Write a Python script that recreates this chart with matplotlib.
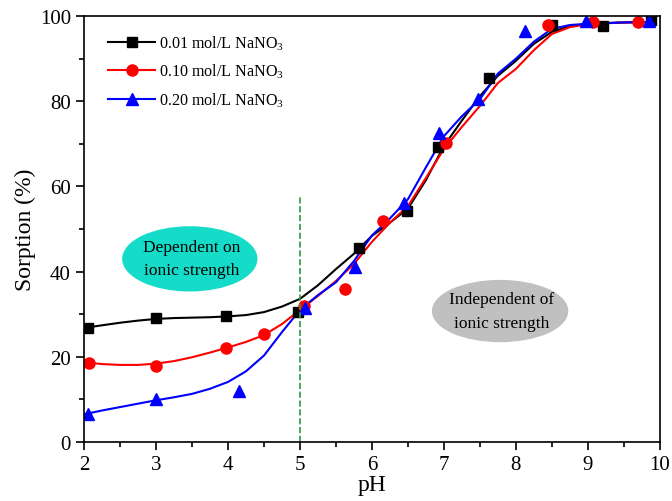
import matplotlib
matplotlib.use("Agg")
import matplotlib.pyplot as plt
from matplotlib.patches import Ellipse

plt.rcParams['font.family'] = ['Liberation Serif', 'DejaVu Serif']
plt.rcParams['mathtext.fontset'] = 'custom'
plt.rcParams['mathtext.rm'] = 'Liberation Serif'
plt.rcParams['mathtext.it'] = 'Liberation Serif:italic'

# measured points
ph_001 = [2.05, 3.0, 3.97, 4.97, 5.82, 6.49, 6.92, 7.63, 8.5, 9.21, 9.88]
s_001 = [26.8, 29.0, 29.5, 30.5, 45.6, 54.3, 69.2, 85.5, 98.0, 97.7, 99.0]
ph_010 = [2.07, 3.0, 3.97, 4.5, 5.05, 5.62, 6.15, 7.03, 8.45, 9.07, 9.7]
s_010 = [18.6, 17.8, 22.0, 25.3, 32.0, 36.0, 52.0, 70.2, 98.0, 98.5, 98.5]
ph_020 = [2.05, 3.0, 4.15, 5.07, 5.77, 6.45, 6.93, 7.47, 8.12, 8.97, 9.85]
s_020 = [6.5, 10.0, 12.0, 31.5, 41.0, 56.0, 72.5, 80.5, 96.5, 98.8, 98.8]

# fitted curves
ph_fit = [2.0, 2.25, 2.5, 2.75, 3.0, 3.25, 3.5, 3.75, 4.0, 4.25, 4.5, 4.75,
          5.0, 5.25, 5.5, 5.75, 6.0, 6.25, 6.5, 6.75, 7.0, 7.25, 7.5, 7.75,
          8.0, 8.25, 8.5, 8.75, 9.0, 9.5, 9.85]
fit_001 = [26.8, 27.4, 28.0, 28.5, 28.9, 29.1, 29.2, 29.3, 29.5, 29.8, 30.5, 31.8,
           33.6, 36.8, 40.6, 44.2, 48.4, 51.5, 54.8, 61.5, 69.5, 75.5, 81.2, 86.0,
           89.5, 93.5, 96.3, 97.6, 98.2, 98.5, 98.6]
fit_010 = [18.7, 18.3, 18.1, 18.1, 18.4, 19.0, 19.9, 21.0, 22.2, 23.5, 25.1, 27.7,
           31.0, 34.3, 37.8, 41.8, 47.0, 51.5, 55.4, 62.0, 68.8, 74.0, 78.9, 84.3,
           87.6, 92.0, 95.8, 97.4, 98.1, 98.5, 98.6]
fit_020 = [6.5, 7.4, 8.2, 9.0, 9.8, 10.5, 11.3, 12.5, 14.1, 16.6, 20.3, 25.8,
           31.0, 34.5, 37.5, 42.5, 48.5, 52.5, 57.0, 64.5, 71.8, 76.5, 80.5, 86.5,
           90.0, 94.0, 97.0, 97.9, 98.2, 98.5, 98.6]

labels = ['0.01 mol/L NaNO$_3$', '0.10 mol/L NaNO$_3$', '0.20 mol/L NaNO$_3$']

fig = plt.figure(figsize=(6.72, 5.02), dpi=100)
ax = fig.add_axes([0.125, 0.1175, 0.857, 0.8485])

ax.plot(ph_fit, fit_001, '-', color='black', lw=1.5)
ax.plot(ph_fit, fit_010, '-', color='red', lw=1.5)
ax.plot(ph_fit, fit_020, '-', color='blue', lw=1.5)
ax.plot(ph_001, s_001, 's', color='black', ms=7)
ax.plot(ph_010, s_010, 'o', color='red', ms=8)
ax.plot(ph_020, s_020, '^', color='blue', ms=8)

# legend handles: line + marker
h1, = ax.plot([], [], '-s', color='black', ms=7, lw=1.5)
h2, = ax.plot([], [], '-o', color='red', ms=8, lw=1.5)
h3, = ax.plot([], [], '-^', color='blue', ms=8, lw=1.5)
ax.legend([h1, h2, h3], labels, loc='upper left', frameon=False, fontsize=11.6,
          handlelength=2.9, handletextpad=0.25, borderaxespad=0,
          bbox_to_anchor=(0.031, 0.975), labelspacing=0.65)

ax.plot([5, 5], [0, 57.7], '--', color='#2e9a3a', lw=1.2)

ax.add_patch(Ellipse((3.47, 43.0), 1.86, 15.0, color='#14dcc8', zorder=1))
ax.text(3.5, 43.0, 'Dependent on\nionic strength', ha='center', va='center',
        fontsize=12.5, linespacing=1.6)
ax.add_patch(Ellipse((7.78, 30.75), 1.875, 14.3, color='#c0c0c0', zorder=1))
ax.text(7.8, 30.75, 'Independent of\nionic strength', ha='center', va='center',
        fontsize=12.5, linespacing=1.6)

ax.set_xlim(2, 10)
ax.set_ylim(0, 100)
ax.set_xticks(range(2, 11))
ax.set_yticks(range(0, 101, 20))
ax.set_xticks([x + 0.5 for x in range(2, 10)], minor=True)
ax.set_yticks(range(10, 100, 20), minor=True)
ax.tick_params(which='both', direction='out', top=False, right=False,
               labelsize=15, width=1.2)
ax.tick_params(which='major', length=6)
ax.tick_params(which='minor', length=3.5)
for sp in ax.spines.values():
    sp.set_linewidth(1.2)
ax.set_xlabel('pH', fontsize=17, labelpad=0)
ax.set_ylabel('Sorption (%)', fontsize=17, labelpad=3)

fig.savefig('out.png', dpi=100)
